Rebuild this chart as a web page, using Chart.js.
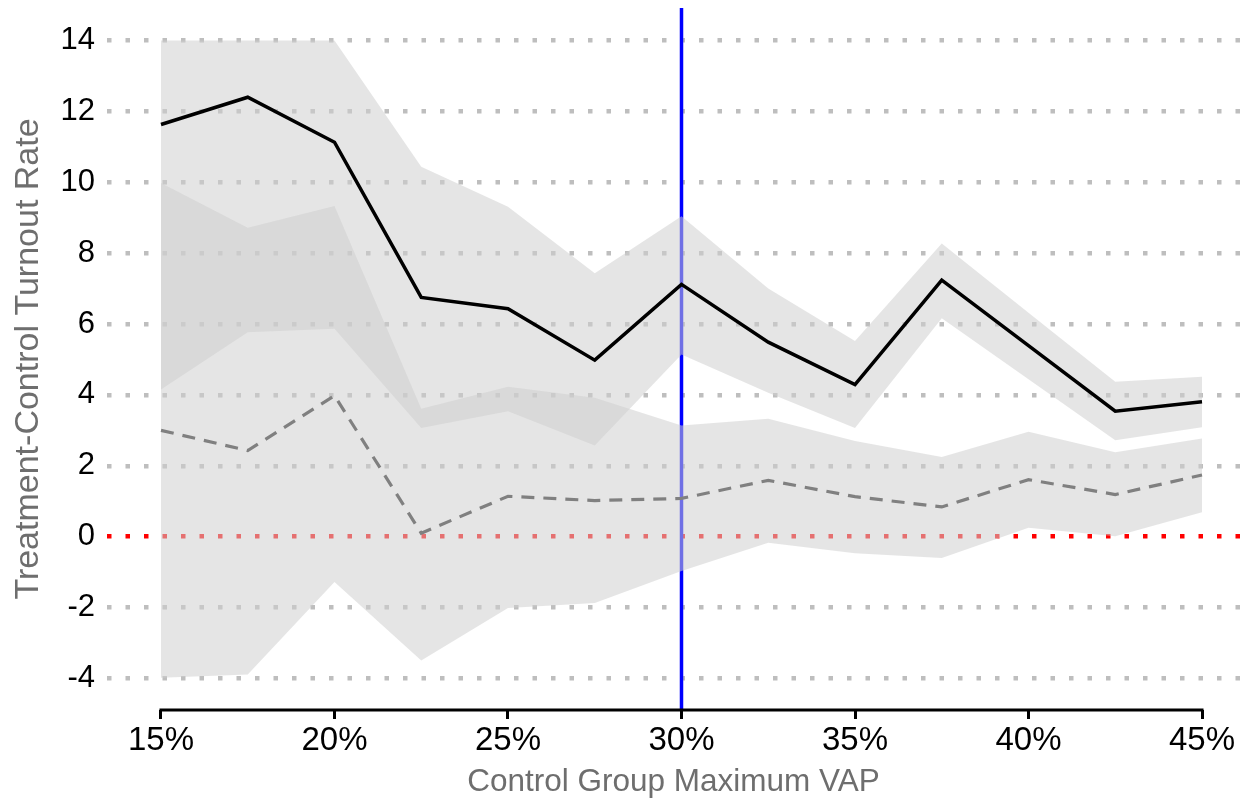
<!DOCTYPE html>
<html>
<head>
<meta charset="utf-8">
<script src="https://cdn.jsdelivr.net/npm/chart.js@4.4.1/dist/chart.umd.min.js"></script>
<style>
  html, body { margin: 0; padding: 0; background: #ffffff; }
  #wrap { width: 1250px; height: 801px; }
</style>
</head>
<body>
<div id="wrap"><canvas id="chart" width="1250" height="801"></canvas></div>
<script>
// Control-group maximum VAP thresholds (%)
const vapCutoffs = [15, 17.5, 20, 22.5, 25, 27.5, 30, 32.5, 35, 37.5, 40, 42.5, 45];

// Treatment-control turnout difference: main estimate with its interval
const estimate      = [11.63, 12.40, 11.13, 6.75, 6.43, 4.98, 7.12, 5.49, 4.29, 7.24, 5.39, 3.54, 3.81];
const estimateUpper = [14.0, 14.0, 14.0, 10.44, 9.31, 7.43, 9.04, 7.0, 5.52, 8.27, 6.32, 4.37, 4.51];
const estimateLower = [4.15, 5.77, 5.87, 3.07, 3.54, 2.57, 5.14, 4.06, 3.07, 6.16, 4.44, 2.72, 3.09];

// Placebo estimate (dashed) with its interval
const placebo      = [3.0, 2.43, 3.98, 0.1, 1.14, 1.02, 1.08, 1.59, 1.13, 0.84, 1.61, 1.19, 1.74];
const placeboUpper = [9.98, 8.72, 9.33, 3.61, 4.23, 3.92, 3.14, 3.33, 2.70, 2.25, 2.96, 2.38, 2.77];
const placeboLower = [-3.98, -3.89, -1.28, -3.49, -2.01, -1.87, -0.97, -0.17, -0.47, -0.60, 0.25, 0.01, 0.69];

// Axis ticks and the chosen threshold
const xTicks = [15, 20, 25, 30, 35, 40, 45];
const yTicks = [-4, -2, 0, 2, 4, 6, 8, 10, 12, 14];
const chosenCutoff = 30;

const X_MIN = 13.444, X_MAX = 46.095;
const Y_MIN = -4.89, Y_MAX = 14.917;

const pts = arr => vapCutoffs.map((x, i) => ({ x: x, y: arr[i] }));

const BAND = 'rgba(207,207,207,0.54)';
const FONT = "'Liberation Sans', Arial, Helvetica, sans-serif";

// Bottom axis line spanning only the first to last labelled tick
const axisLinePlugin = {
  id: 'axisLine',
  afterDatasetsDraw(chart) {
    const xs = chart.scales.x;
    const ctx = chart.ctx;
    const y = chart.chartArea.bottom;
    ctx.save();
    ctx.strokeStyle = '#000000';
    ctx.lineWidth = 3;
    ctx.lineCap = 'square';
    ctx.beginPath();
    ctx.moveTo(xs.getPixelForValue(xTicks[0]), y);
    ctx.lineTo(xs.getPixelForValue(xTicks[xTicks.length - 1]), y);
    ctx.stroke();
    ctx.restore();
  }
};

new Chart(document.getElementById('chart'), {
  type: 'line',
  data: {
    datasets: [
      {
        label: 'cutoff',
        data: [{ x: chosenCutoff, y: Y_MIN }, { x: chosenCutoff, y: Y_MAX }],
        borderColor: '#0000ff',
        borderWidth: 3.5,
        pointRadius: 0,
        fill: false,
        order: 10
      },
      {
        label: 'estimate upper',
        data: pts(estimateUpper),
        borderWidth: 0,
        borderColor: 'rgba(0,0,0,0)',
        backgroundColor: BAND,
        pointRadius: 0,
        fill: '+1',
        order: 8
      },
      {
        label: 'estimate lower',
        data: pts(estimateLower),
        borderWidth: 0,
        borderColor: 'rgba(0,0,0,0)',
        pointRadius: 0,
        fill: false,
        order: 8
      },
      {
        label: 'placebo upper',
        data: pts(placeboUpper),
        borderWidth: 0,
        borderColor: 'rgba(0,0,0,0)',
        backgroundColor: BAND,
        pointRadius: 0,
        fill: '+1',
        order: 7
      },
      {
        label: 'placebo lower',
        data: pts(placeboLower),
        borderWidth: 0,
        borderColor: 'rgba(0,0,0,0)',
        pointRadius: 0,
        fill: false,
        order: 7
      },
      {
        label: 'placebo',
        data: pts(placebo),
        borderColor: '#808080',
        borderWidth: 3.2,
        borderDash: [13, 9],
        pointRadius: 0,
        fill: false,
        order: 2
      },
      {
        label: 'estimate',
        data: pts(estimate),
        borderColor: '#000000',
        borderWidth: 3.5,
        pointRadius: 0,
        fill: false,
        order: 1
      }
    ]
  },
  options: {
    responsive: false,
    animation: false,
    layout: { padding: { top: 8, right: 10, left: 0, bottom: 0 } },
    elements: { line: { tension: 0 } },
    plugins: {
      legend: { display: false },
      tooltip: { enabled: false }
    },
    scales: {
      x: {
        type: 'linear',
        min: X_MIN,
        max: X_MAX,
        afterBuildTicks: s => { s.ticks = xTicks.map(v => ({ value: v })); },
        afterFit: s => { s.height = 91; s.paddingLeft = 0; s.paddingRight = 0; },
        border: { display: false },
        grid: {
          drawOnChartArea: false,
          drawTicks: true,
          tickLength: 9,
          tickWidth: 3,
          color: '#000000',
          lineWidth: 3
        },
        ticks: {
          callback: v => v + '%',
          color: '#000000',
          font: { family: FONT, size: 33 },
          padding: 2,
          maxRotation: 0,
          autoSkip: false
        },
        title: {
          display: true,
          text: 'Control Group Maximum VAP',
          color: '#6e6e6e',
          font: { family: FONT, size: 31.5 },
          padding: { top: 0, bottom: 0 }
        }
      },
      y: {
        type: 'linear',
        min: Y_MIN,
        max: Y_MAX,
        afterBuildTicks: s => { s.ticks = yTicks.map(v => ({ value: v })); },
        afterFit: s => { s.width = 107; s.paddingTop = 0; s.paddingBottom = 0; },
        border: { display: false, dash: [4.5, 14] },
        grid: {
          drawTicks: false,
          lineWidth: 4.5,
          color: c => (c.tick && c.tick.value === 0) ? '#ff0000' : '#bebebe'
        },
        ticks: {
          color: '#000000',
          font: { family: FONT, size: 31 },
          padding: 12,
          autoSkip: false
        },
        title: {
          display: true,
          text: 'Treatment-Control Turnout Rate',
          color: '#6e6e6e',
          font: { family: FONT, size: 34 },
          padding: { top: 8, bottom: 0 }
        }
      }
    }
  },
  plugins: [axisLinePlugin]
});
</script>
</body>
</html>
